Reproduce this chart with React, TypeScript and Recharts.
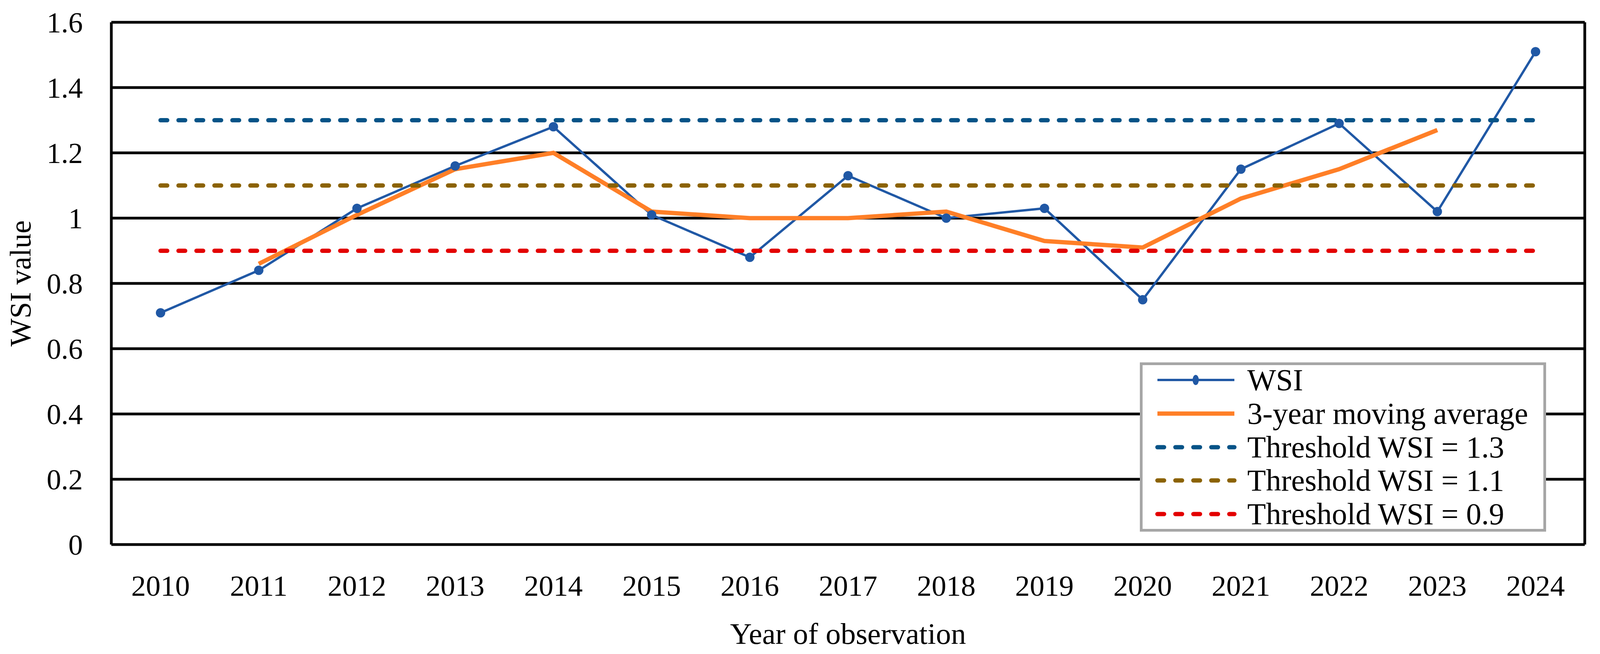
import { LineChart, Line, XAxis, YAxis, CartesianGrid, Legend } from "recharts";

const years = ["2010", "2011", "2012", "2013", "2014", "2015", "2016", "2017", "2018", "2019", "2020", "2021", "2022", "2023", "2024"];
const wsiValues = [0.71, 0.84, 1.03, 1.16, 1.28, 1.01, 0.88, 1.13, 1.0, 1.03, 0.75, 1.15, 1.29, 1.02, 1.51];
const movingAverage = [null, 0.86, 1.01, 1.15, 1.2, 1.02, 1.0, 1.0, 1.02, 0.93, 0.91, 1.06, 1.15, 1.27, null];
const threshold13 = [1.3, 1.3, 1.3, 1.3, 1.3, 1.3, 1.3, 1.3, 1.3, 1.3, 1.3, 1.3, 1.3, 1.3, 1.3];
const threshold11 = [1.1, 1.1, 1.1, 1.1, 1.1, 1.1, 1.1, 1.1, 1.1, 1.1, 1.1, 1.1, 1.1, 1.1, 1.1];
const threshold09 = [0.9, 0.9, 0.9, 0.9, 0.9, 0.9, 0.9, 0.9, 0.9, 0.9, 0.9, 0.9, 0.9, 0.9, 0.9];
const yTicks = [0, 0.2, 0.4, 0.6, 0.8, 1, 1.2, 1.4, 1.6];

const FONT = '"Liberation Serif", "Times New Roman", serif';
const WSI_COLOR = "#2058A5";
const MA_COLOR = "#FF7F27";
const T13_COLOR = "#065387";
const T11_COLOR = "#8B6200";
const T09_COLOR = "#E30000";
const DASH = "17 29";

const data = years.map((year, i) => ({
	year,
	wsi: wsiValues[i],
	ma: movingAverage[i],
	t13: threshold13[i],
	t11: threshold11[i],
	t09: threshold09[i],
}));

type LegendItem = { name: string; color: string; width: number; dash?: string; dot?: boolean };

const legendItems: LegendItem[] = [
	{ name: "WSI", color: WSI_COLOR, width: 6, dot: true },
	{ name: "3-year moving average", color: MA_COLOR, width: 11 },
	{ name: "Threshold WSI = 1.3", color: T13_COLOR, width: 11, dash: DASH },
	{ name: "Threshold WSI = 1.1", color: T11_COLOR, width: 11, dash: DASH },
	{ name: "Threshold WSI = 0.9", color: T09_COLOR, width: 11, dash: DASH },
];

const LegendBox = () => (
	<div
		style={{
			position: "relative",
			width: 1040,
			height: 433,
			boxSizing: "border-box",
			border: "7px solid #A6A6A6",
			background: "#fff",
		}}
	>
		{legendItems.map((item, i) => (
			<div
				key={item.name}
				style={{
					position: "absolute",
					left: 0,
					top: 38 + i * 85.75 - 43,
					height: 86,
					display: "flex",
					alignItems: "center",
				}}
			>
				<svg width={268} height={86} style={{ display: "block" }}>
					<line
						x1={38}
						x2={235}
						y1={43}
						y2={43}
						stroke={item.color}
						strokeWidth={item.width}
						strokeDasharray={item.dash}
						strokeLinecap={item.dash ? "round" : "butt"}
					/>
					{item.dot && <ellipse cx={136} cy={43} rx={8} ry={13} fill={item.color} />}
				</svg>
				<span style={{ fontFamily: FONT, fontSize: 78, color: "#000", whiteSpace: "nowrap", lineHeight: 1 }}>
					{item.name}
				</span>
			</div>
		))}
	</div>
);

const YLabel = (props: any) => {
	const vb = props.viewBox;
	const cx = 78;
	const cy = vb && vb.height ? vb.y + vb.height / 2 : 725;
	return (
		<text
			x={cx}
			y={cy}
			transform={`rotate(-90 ${cx} ${cy})`}
			textAnchor="middle"
			fontFamily={FONT}
			fontSize={76}
			fill="#000"
		>
			WSI value
		</text>
	);
};

export default function App() {
	return (
		<div style={{ position: "absolute", left: 0, top: 0, background: "#fff" }}>
			<LineChart width={4099} height={1673} data={data} margin={{ top: 57, right: 42, bottom: 0, left: 0 }}>
				<CartesianGrid
					stroke="#000"
					strokeWidth={7}
					vertical={true}
					verticalCoordinatesGenerator={({ offset }: any) => [offset.left, offset.left + offset.width]}
				/>
				<XAxis
					dataKey="year"
					height={280}
					padding={{ left: 126, right: 126 }}
					axisLine={false}
					tickLine={false}
					tickSize={0}
					tickMargin={78}
					interval={0}
					tick={{ fontSize: 75, fill: "#000", fontFamily: FONT }}
					label={{
						value: "Year of observation",
						position: "insideBottom",
						offset: 26,
						fontSize: 77,
						fill: "#000",
						fontFamily: FONT,
					}}
				/>
				<YAxis
					width={285}
					domain={[0, 1.6]}
					ticks={yTicks}
					axisLine={false}
					tickLine={false}
					tickSize={0}
					tickMargin={73}
					interval={0}
					tick={{ fontSize: 74, fill: "#000", fontFamily: FONT }}
					label={(p: any) => <YLabel {...p} />}
				/>
				<Line
					dataKey="wsi"
					name="WSI"
					stroke={WSI_COLOR}
					strokeWidth={6}
					dot={{ r: 12, fill: WSI_COLOR, stroke: "none" }}
					activeDot={false}
					isAnimationActive={false}
				/>
				<Line
					dataKey="ma"
					name="3-year moving average"
					stroke={MA_COLOR}
					strokeWidth={11}
					dot={false}
					activeDot={false}
					isAnimationActive={false}
				/>
				<Line
					dataKey="t13"
					name="Threshold WSI = 1.3"
					stroke={T13_COLOR}
					strokeWidth={11}
					strokeDasharray={DASH}
					strokeLinecap="round"
					dot={false}
					activeDot={false}
					isAnimationActive={false}
				/>
				<Line
					dataKey="t11"
					name="Threshold WSI = 1.1"
					stroke={T11_COLOR}
					strokeWidth={11}
					strokeDasharray={DASH}
					strokeLinecap="round"
					dot={false}
					activeDot={false}
					isAnimationActive={false}
				/>
				<Line
					dataKey="t09"
					name="Threshold WSI = 0.9"
					stroke={T09_COLOR}
					strokeWidth={11}
					strokeDasharray={DASH}
					strokeLinecap="round"
					dot={false}
					activeDot={false}
					isAnimationActive={false}
				/>
				<Legend
					layout="horizontal"
					verticalAlign="middle"
					align="center"
					content={() => <LegendBox />}
					wrapperStyle={{ position: "absolute", left: 2918, top: 927, width: 1040, height: 433 }}
				/>
			</LineChart>
		</div>
	);
}
